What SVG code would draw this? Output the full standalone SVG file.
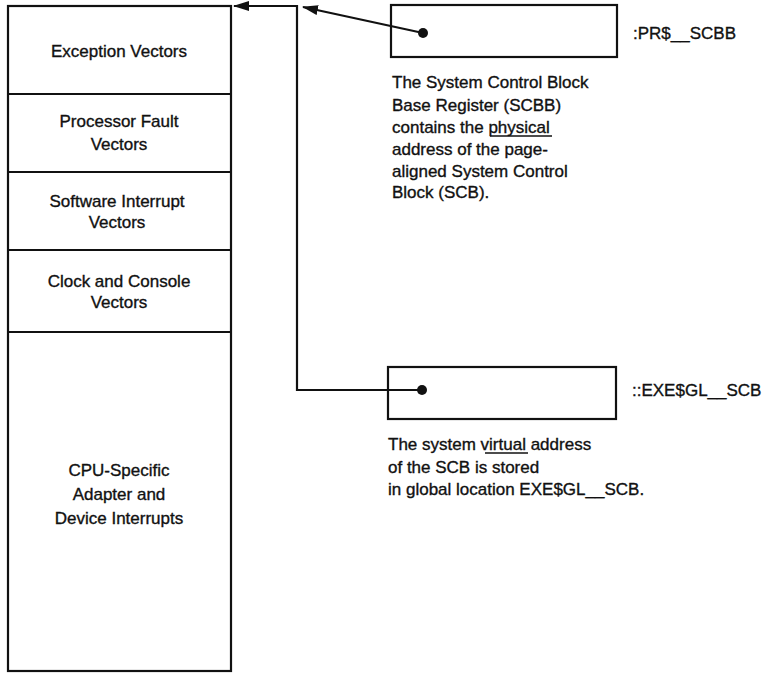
<svg xmlns="http://www.w3.org/2000/svg" width="762" height="673" viewBox="0 0 762 673">
<defs>
<marker id="ah" markerWidth="16" markerHeight="10" refX="15" refY="5" orient="auto" markerUnits="userSpaceOnUse"><path d="M0,0 L16,5 L0,10 Z" fill="#111"/></marker>
</defs>
<style>
.box{fill:#fff;stroke:#111;stroke-width:2.2}
.t{font-family:"Liberation Sans",Arial,sans-serif;font-size:17px;fill:#111;stroke:#111;stroke-width:0.35}
.c{text-anchor:middle}
.ln{fill:none;stroke:#111;stroke-width:2.2}
.ul{stroke:#111;stroke-width:1.3}
</style>
<rect width="762" height="673" fill="#fff"/>
<g id="scb">
<rect class="box" x="8" y="6" width="223" height="665"/>
<line class="ln" x1="8" y1="94" x2="231" y2="94"/>
<line class="ln" x1="8" y1="172" x2="231" y2="172"/>
<line class="ln" x1="8" y1="250" x2="231" y2="250"/>
<line class="ln" x1="8" y1="332" x2="231" y2="332"/>
</g>
<g id="exception">
<text class="t c" x="119" y="57">Exception Vectors</text>
</g>
<g id="processor">
<text class="t c" x="119" y="127">Processor Fault</text>
<text class="t c" x="119" y="150">Vectors</text>
</g>
<g id="software">
<text class="t c" x="117" y="207">Software Interrupt</text>
<text class="t c" x="117" y="228">Vectors</text>
</g>
<g id="clock">
<text class="t c" x="119" y="287">Clock and Console</text>
<text class="t c" x="119" y="308">Vectors</text>
</g>
<g id="cpu">
<text class="t c" x="119" y="476">CPU-Specific</text>
<text class="t c" x="119" y="500">Adapter and</text>
<text class="t c" x="119" y="524">Device Interrupts</text>
</g>
<g id="scbb">
<rect class="box" x="391" y="5" width="226" height="52"/>
<text class="t" x="633" y="39">:PR$__SCBB</text>
<text class="t" x="392" y="88">The System Control Block</text>
<text class="t" x="392" y="111">Base Register (SCBB)</text>
<text class="t" x="392" y="133">contains the physical</text>
<line class="ul" x1="490" y1="136" x2="552" y2="136"/>
<text class="t" x="392" y="155">address of the page-</text>
<text class="t" x="392" y="177">aligned System Control</text>
<text class="t" x="392" y="198">Block (SCB).</text>
</g>
<g id="exegl">
<rect class="box" x="388" y="367" width="228" height="52"/>
<text class="t" x="632" y="396">::EXE$GL__SCB</text>
<text class="t" x="388" y="450">The system virtual address</text>
<line class="ul" x1="485" y1="453" x2="528" y2="453"/>
<text class="t" x="388" y="473">of the SCB is stored</text>
<text class="t" x="388" y="495">in global location EXE$GL__SCB.</text>
</g>
<g id="connectors">
<circle cx="423" cy="33" r="5" fill="#111"/>
<line class="ln" x1="423" y1="33" x2="303" y2="7" marker-end="url(#ah)"/>
<circle cx="422" cy="390" r="5" fill="#111"/>
<polyline class="ln" points="422,390 297,390 297,6 234,6" marker-end="url(#ah)"/>
</g>
</svg>
